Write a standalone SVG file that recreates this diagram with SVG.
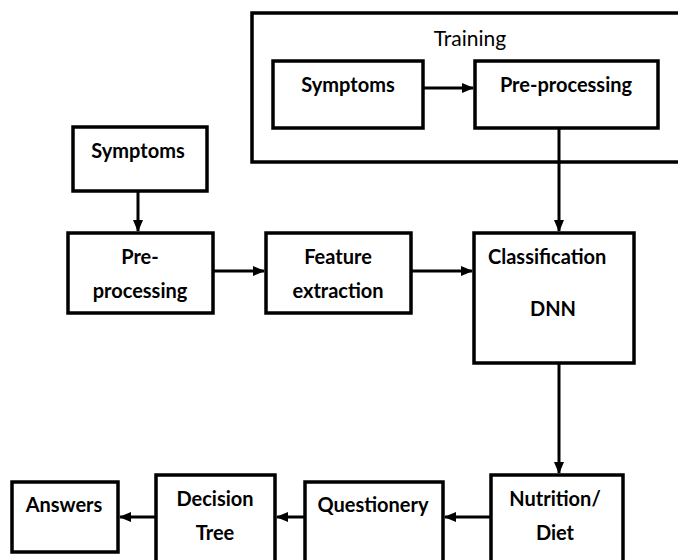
<svg xmlns="http://www.w3.org/2000/svg" width="678" height="560" viewBox="0 0 678 560">
<style>
.box{fill:#fff;stroke:#000;stroke-width:3.5}
.t{font-family:Lato,"Open Sans","Liberation Sans",sans-serif;font-weight:bold;font-size:20px;fill:#000;text-anchor:middle}
.tr{font-family:Lato,"Open Sans","Liberation Sans",sans-serif;font-size:21px;fill:#000;text-anchor:middle}
.c{fill:none;stroke:#000;stroke-width:3}
</style>
<defs>
<marker id="ah" markerWidth="12" markerHeight="10" refX="11" refY="5" orient="auto" markerUnits="userSpaceOnUse">
<path d="M0,0 L12,5 L0,10 Z" fill="#000"/>
</marker>
</defs>
<rect width="678" height="560" fill="#fff"/>
<g id="training">
<rect class="box" x="252" y="13" width="440" height="149"/>
<text class="tr" x="470" y="46">Training</text>
</g>
<g id="train-symptoms">
<rect class="box" x="273" y="61" width="150" height="67"/>
<text class="t" x="348" y="92">Symptoms</text>
</g>
<g id="train-preprocessing">
<rect class="box" x="475" y="61" width="183" height="67"/>
<text class="t" x="566" y="92">Pre-processing</text>
</g>
<g id="symptoms">
<rect class="box" x="73" y="127" width="134" height="64"/>
<text class="t" x="138" y="158">Symptoms</text>
</g>
<g id="preprocessing">
<rect class="box" x="68" y="233" width="145" height="80"/>
<text class="t" x="140" y="264">Pre-</text>
<text class="t" x="140" y="298">processing</text>
</g>
<g id="feature">
<rect class="box" x="266" y="233" width="145" height="80"/>
<text class="t" x="338" y="264">Feature</text>
<text class="t" x="338" y="298">extraction</text>
</g>
<g id="classification">
<rect class="box" x="474" y="233" width="160" height="130"/>
<text class="t" x="488" y="264" style="text-anchor:start">Classification</text>
<text class="t" x="553" y="316">DNN</text>
</g>
<g id="nutrition">
<rect class="box" x="491" y="475" width="132" height="100"/>
<text class="t" x="555" y="506">Nutrition/</text>
<text class="t" x="555" y="540">Diet</text>
</g>
<g id="questionery">
<rect class="box" x="305" y="482" width="138" height="100"/>
<text class="t" x="373" y="512">Questionery</text>
</g>
<g id="decision">
<rect class="box" x="156" y="475" width="119" height="100"/>
<text class="t" x="215" y="506">Decision</text>
<text class="t" x="215" y="540">Tree</text>
</g>
<g id="answers">
<rect class="box" x="12" y="482" width="106" height="70"/>
<text class="t" x="64" y="512">Answers</text>
</g>
<g id="connectors">
<line class="c" x1="423" y1="88" x2="473" y2="88" marker-end="url(#ah)"/>
<line class="c" x1="559" y1="128" x2="559" y2="231" marker-end="url(#ah)"/>
<line class="c" x1="138" y1="191" x2="138" y2="231" marker-end="url(#ah)"/>
<line class="c" x1="213" y1="271" x2="264" y2="271" marker-end="url(#ah)"/>
<line class="c" x1="411" y1="271" x2="472" y2="271" marker-end="url(#ah)"/>
<line class="c" x1="559" y1="363" x2="559" y2="473" marker-end="url(#ah)"/>
<line class="c" x1="491" y1="517" x2="445" y2="517" marker-end="url(#ah)"/>
<line class="c" x1="305" y1="517" x2="277" y2="517" marker-end="url(#ah)"/>
<line class="c" x1="156" y1="517" x2="120" y2="517" marker-end="url(#ah)"/>
</g>
</svg>
